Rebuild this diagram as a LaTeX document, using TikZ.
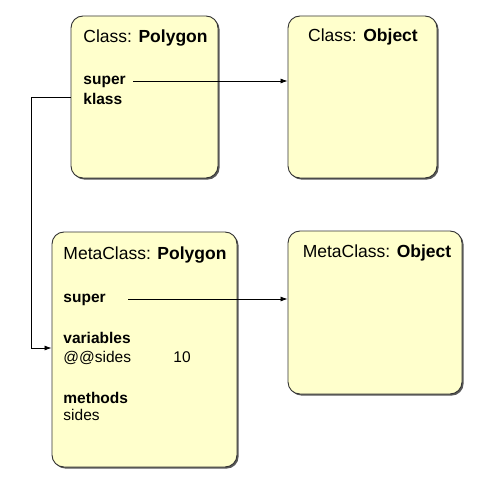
\documentclass[tikz,border=0pt]{standalone}
\usepackage{fontspec}
\setmainfont{Liberation Sans}
\usetikzlibrary{arrows.meta,shadows}
\definecolor{boxfill}{HTML}{FFFFCC}
\definecolor{boxline}{HTML}{333333}

\begin{document}
\begin{tikzpicture}[x=1pt, y=-1pt, line width=0.9pt,
  classbox/.style={draw=boxline, fill=boxfill, rounded corners=12pt, inner sep=0pt,
    drop shadow={shadow xshift=1.6pt, shadow yshift=-1.6pt, fill=black!65, opacity=1}},
  title/.style={inner sep=0pt, anchor=base west, font=\fontsize{17.5}{20}\selectfont},
  field/.style={inner sep=0pt, anchor=base west, font=\fontsize{15.5}{18}\selectfont},
  link/.style={line width=0.8pt, -{Latex[length=7pt,width=5pt]}}]
  \useasboundingbox[fill=white] (0,0) rectangle (487,494);
  % the four boxes
  \node[classbox, minimum width=147pt, minimum height=162pt] (polygon) at (144.5,97) {};
  \node[classbox, minimum width=149pt, minimum height=162pt] (object) at (362.5,97) {};
  \node[classbox, minimum width=185pt, minimum height=235pt] (metapoly) at (144.5,349.5) {};
  \node[classbox, minimum width=174pt, minimum height=163pt] (metaobj) at (375,312.5) {};
  % Class: Polygon
  \node[title] (polytitle) at (83,43) {Class: \textbf{Polygon}};
  \node[field] (super) at (83,85) {\textbf{super}};
  \node[field] (klass) at (83,105) {\textbf{klass}};
  % Class: Object
  \node[title, anchor=base] (objtitle) at (363,42) {Class: \textbf{Object}};
  % MetaClass: Polygon
  \node[title] (metatitle) at (63,259) {MetaClass: \textbf{Polygon}};
  \node[field] (metasuper) at (63,302) {\textbf{super}};
  \node[field] (vars) at (63,343) {\textbf{variables}};
  \node[field] (sides) at (63,362) {@@sides};
  \node[field] (ten) at (173,362) {10};
  \node[field] (methods) at (63,403) {\textbf{methods}};
  \node[field] (sidesmeth) at (63,420) {sides};
  % MetaClass: Object
  \node[title, anchor=base] (metaobjtitle) at (377,257) {MetaClass: \textbf{Object}};
  % connectors
  \coordinate (superout) at (133,81);
  \coordinate (metasuperout) at (128,299);
  \coordinate (klassin) at (metapoly.west |- 0,348);
  \draw[link] (superout) -- (object.west |- superout);
  \draw[link] (metasuperout) -- (metaobj.west |- metasuperout);
  \draw[link] (polygon.west |- 0,97) -- (31,97) |- (klassin);
\end{tikzpicture}
\end{document}
